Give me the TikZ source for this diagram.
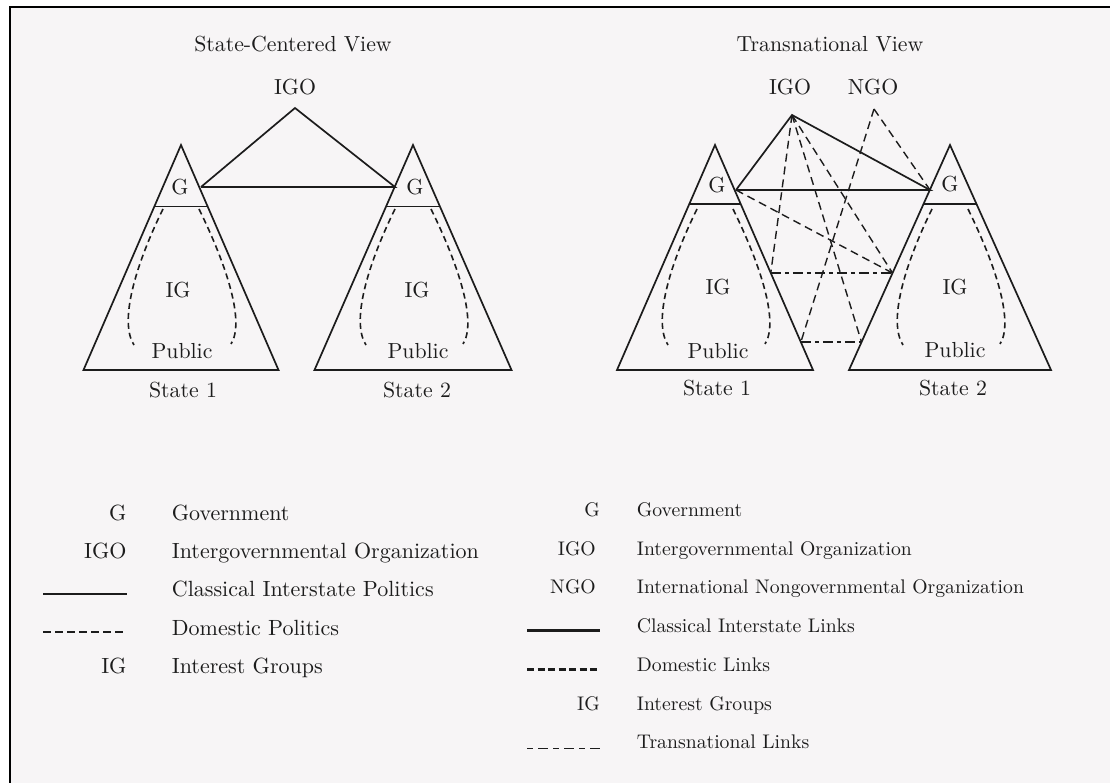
\documentclass[tikz,border=0pt]{standalone}
\usepackage{fontspec}
\setmainfont{lmroman10-regular.otf}
\usetikzlibrary{calc}
\definecolor{paper}{RGB}{247,245,246}
\definecolor{ink}{RGB}{28,28,28}
\begin{document}
\begin{tikzpicture}[x=1pt,y=-1pt,
  tri/.style={draw=ink,line width=1.7pt},
  cls/.style={draw=ink,line width=1.7pt},
  dom/.style={draw=ink,line width=1.6pt,dash pattern=on 6pt off 4pt},
  lnk/.style={draw=ink,line width=1.4pt,dash pattern=on 8pt off 5pt},
  trn/.style={draw=ink,line width=1.4pt,dash pattern=on 10pt off 4pt on 4pt off 4pt},
  lbl/.style={font=\fontsize{21.8}{24}\selectfont,text=ink,anchor=base,inner sep=0pt},
  symL/.style={font=\fontsize{22}{24}\selectfont,text=ink,anchor=base east,inner sep=0pt},
  txtL/.style={font=\fontsize{22}{24}\selectfont,text=ink,anchor=base west,inner sep=0pt},
  symR/.style={font=\fontsize{19.7}{22}\selectfont,text=ink,anchor=base east,inner sep=0pt},
  txtR/.style={font=\fontsize{19.7}{22}\selectfont,text=ink,anchor=base west,inner sep=0pt}]
\useasboundingbox (0,0) rectangle (1110,783);
\fill[white] (0,0) rectangle (1110,783);
\fill[paper] (10,7) rectangle (1110,783);
\draw[black,line width=2.7pt] (10,783) -- (10,7) -- (1110,7);

% ---------- triangles (states) ----------
\foreach \n/\cx/\hw/\s in {1/181/97.5/0.274, 2/413/98.5/0.274, 3/715/98/0.262, 4/950/101/0.262}{
  \coordinate (a\n) at (\cx,145);
  \coordinate (b\n) at (\cx-\hw,370);
  \coordinate (c\n) at (\cx+\hw,370);
  \draw[tri] (a\n) -- (b\n) -- (c\n) -- cycle;
  \draw[tri] ($(a\n)!\s!(b\n)$) -- ($(a\n)!\s!(c\n)$);
  \draw[dom] (\cx-18,209) .. controls (\cx-46,266) and (\cx-62,322) .. (\cx-47,345);
  \draw[dom] (\cx+18,209) .. controls (\cx+46,266) and (\cx+64,322) .. (\cx+50,344);
}

% ---------- State-Centered View ----------
\node[lbl] (titleL) at (293,51.7) {State-Centered View};
\node[lbl] (igoL) at (295,95) {IGO};
\node[lbl] (g1) at (180,195) {G};
\node[lbl] (ig1) at (178,298) {IG};
\node[lbl] (pub1) at (182,358) {Public};
\node[lbl] (st1) at (183,397) {State 1};
\node[lbl] (g2) at (415,195) {G};
\node[lbl] (ig2) at (417,298) {IG};
\node[lbl] (pub2) at (418,358) {Public};
\node[lbl] (st2) at (417,397) {State 2};
\coordinate (igoLa) at (295,108);
\coordinate (gL1) at (201,187);
\coordinate (gL2) at (395,187);
\draw[cls] (gL1) -- (igoLa) -- (gL2) -- (gL1);

% ---------- Transnational View ----------
\node[lbl] (titleR) at (830,51.7) {Transnational View};
\node[lbl] (igoR) at (790,95) {IGO};
\node[lbl] (ngoR) at (873,95) {NGO};
\node[lbl] (g3) at (717,193) {G};
\node[lbl] (ig3) at (718,295) {IG};
\node[lbl] (pub3) at (718,358) {Public};
\node[lbl] (st3) at (717,395) {State 1};
\node[lbl] (g4) at (950,192) {G};
\node[lbl] (ig4) at (955,295) {IG};
\node[lbl] (pub4) at (955,357) {Public};
\node[lbl] (st4) at (953,395) {State 2};
\coordinate (igoRa) at (792,115);
\coordinate (ngoRa) at (874,109);
\coordinate (gR1) at (736,190);
\coordinate (gR2) at (930,190);
\coordinate (l1) at ($(a3)!0.569!(c3)$);
\coordinate (l2) at ($(a3)!0.876!(c3)$);
\coordinate (r1) at ($(a4)!0.569!(b4)$);
\coordinate (r2) at ($(a4)!0.876!(b4)$);
\draw[cls] (gR1) -- (igoRa) -- (gR2) -- (gR1);
\draw[lnk] (igoRa) -- (l1);
\draw[lnk] (igoRa) -- (r2);
\draw[lnk] (igoRa) -- (r1);
\draw[lnk] (gR1) -- (r1);
\draw[lnk] (ngoRa) -- (l2);
\draw[lnk] (ngoRa) -- (gR2);
\draw[trn] (l1) -- (r1);
\draw[trn] (l2) -- (r2);

% ---------- Legend left ----------
\node[symL] (kg1) at (126.7,520) {G};
\node[txtL] (kg1t) at (171.7,520) {Government};
\node[symL] (kigo1) at (126.7,558.3) {IGO};
\node[txtL] (kigo1t) at (171.7,558.3) {Intergovernmental Organization};
\coordinate (ks1a) at (43,594); \coordinate (ks1b) at (127,594);
\draw[draw=ink,line width=1.5pt] (ks1a) -- (ks1b);
\node[txtL] (ks1t) at (171.7,596.7) {Classical Interstate Politics};
\coordinate (kd1a) at (43,632); \coordinate (kd1b) at (127,632);
\draw[draw=ink,line width=1.3pt,dash pattern=on 7.5pt off 4.5pt] (kd1a) -- (kd1b);
\node[txtL] (kd1t) at (171.7,635) {Domestic Politics};
\node[symL] (kig1) at (126.7,673.3) {IG};
\node[txtL] (kig1t) at (171.7,673.3) {Interest Groups};

% ---------- Legend right ----------
\node[symR] (kg2) at (600,516) {G};
\node[txtR] (kg2t) at (636.7,516) {Government};
\node[symR] (kigo2) at (596,555) {IGO};
\node[txtR] (kigo2t) at (636.7,555) {Intergovernmental Organization};
\node[symR] (kngo2) at (596,593.3) {NGO};
\node[txtR] (kngo2t) at (636.7,593.3) {International Nongovernmental Organization};
\coordinate (ks2a) at (527,630.7); \coordinate (ks2b) at (600,630.7);
\draw[draw=ink,line width=2.6pt] (ks2a) -- (ks2b);
\node[txtR] (ks2t) at (636.7,632.3) {Classical Interstate Links};
\coordinate (kd2a) at (527,669.3); \coordinate (kd2b) at (600,669.3);
\draw[draw=ink,line width=2.4pt,dash pattern=on 7pt off 3.5pt] (kd2a) -- (kd2b);
\node[txtR] (kd2t) at (636.7,671) {Domestic Links};
\node[symR] (kig2) at (600,710) {IG};
\node[txtR] (kig2t) at (636.7,710) {Interest Groups};
\coordinate (kt2a) at (527,748.3); \coordinate (kt2b) at (600,748.3);
\draw[draw=ink,line width=1pt,dash pattern=on 6pt off 5pt on 10pt off 5pt] (kt2a) -- (kt2b);
\node[txtR] (kt2t) at (636.7,748.3) {Transnational Links};
\end{tikzpicture}
\end{document}
